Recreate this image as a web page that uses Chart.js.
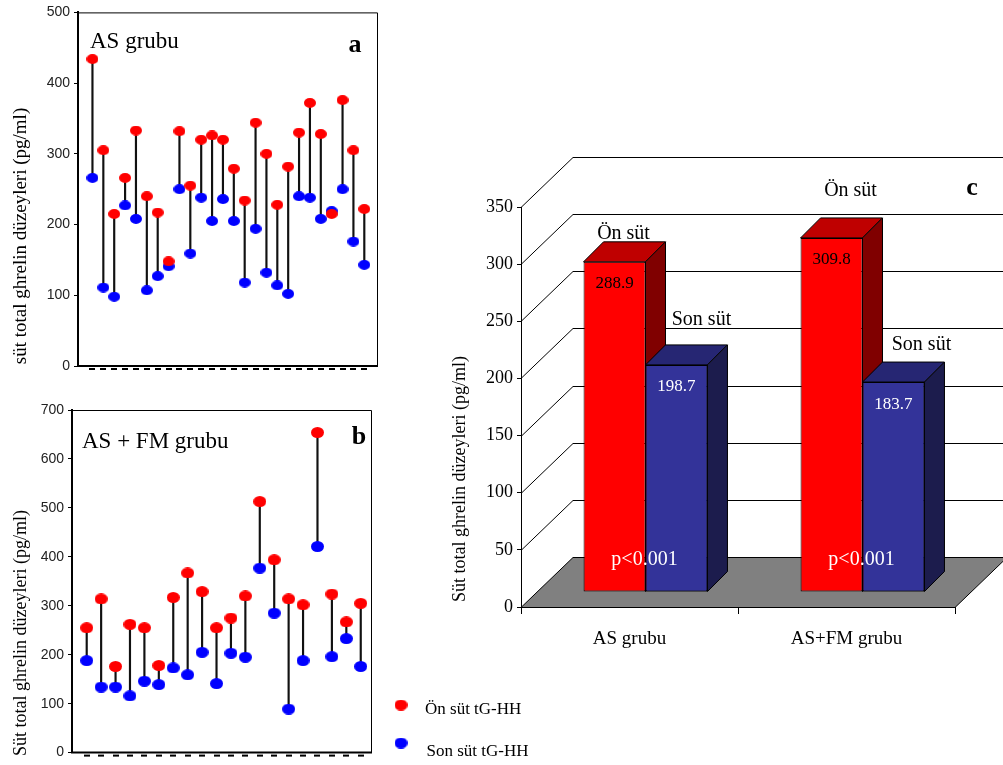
<!DOCTYPE html>
<html>
<head>
<meta charset="utf-8">
<script src="https://cdn.jsdelivr.net/npm/chart.js@4.4.1/dist/chart.umd.min.js"></script>
<style>
  body { margin: 0; background: #fff; width: 1003px; height: 765px; position: relative; overflow: hidden; }
  canvas { position: absolute; }
</style>
</head>
<body>
<canvas id="grafikA" width="390" height="380" style="left:0;top:0"></canvas>
<canvas id="grafikB" width="560" height="370" style="left:0;top:395px"></canvas>
<canvas id="grafikC" width="563" height="525" style="left:440px;top:140px"></canvas>
<script>
// a - AS grubu, her anne icin on sut / son sut (pg/ml)
const asOnSut  = [434, 305, 215, 266, 333, 240, 217, 148, 332, 255, 320, 326, 320, 279, 234, 344, 300, 228, 282, 330, 372, 328, 215, 376, 305, 222];
const asSonSut = [266, 111,  98, 227, 208, 107, 127, 141, 250, 159, 238, 205, 236, 205, 118, 194, 132, 114, 102, 240, 238, 208, 219, 250, 176, 143];

// b - AS + FM grubu
const fmOnSut  = [255, 314, 176, 262, 255, 178, 317, 367, 329, 255, 275, 320, 513, 394, 314, 302, 654, 324, 267, 305];
const fmSonSut = [188, 134, 134, 116, 146, 139, 173, 159, 205, 141, 203, 195, 377, 285,  89, 188, 421, 196, 233, 176];

// c - ortalamalar
const gruplar = ['AS grubu', 'AS+FM grubu'];
const ortOnSut = [288.9, 309.8];
const ortSonSut = [198.7, 183.7];
const pDegeri = ['p<0.001', 'p<0.001'];

const serif = 'Liberation Serif';

function elips(renk, w, h) {
  const c = document.createElement('canvas');
  c.width = w; c.height = h;
  const g = c.getContext('2d');
  g.fillStyle = renk;
  g.beginPath();
  g.ellipse(w / 2, h / 2, w / 2, h / 2, 0, 0, Math.PI * 2);
  g.fill();
  return c;
}

// serbest yazilar (baslik, eksen adi, panel harfi)
function yazilar(items) {
  return {
    id: 'yazilar',
    afterDraw(chart) {
      const ctx = chart.ctx;
      items.forEach(t => {
        ctx.save();
        ctx.translate(t.x, t.y);
        if (t.rot) ctx.rotate(t.rot);
        ctx.font = t.font;
        ctx.fillStyle = t.color || '#000';
        ctx.textAlign = t.align || 'left';
        ctx.textBaseline = t.base || 'alphabetic';
        ctx.fillText(t.text, 0, 0);
        ctx.restore();
      });
    }
  };
}

// cerceve + alt eksen cizgileri
const cerceve = {
  id: 'cerceve',
  afterDraw(chart) {
    const { ctx, chartArea: a, scales: { x } } = chart;
    ctx.save();
    ctx.strokeStyle = '#000';
    ctx.lineWidth = 1;
    ctx.beginPath();
    ctx.moveTo(a.left, a.top + 0.5);
    ctx.lineTo(a.right - 0.5, a.top + 0.5);
    ctx.lineTo(a.right - 0.5, a.bottom);
    ctx.stroke();
    ctx.lineWidth = 2;
    ctx.beginPath();
    ctx.moveTo(a.left - 1, a.bottom);
    ctx.lineTo(a.right, a.bottom);
    ctx.stroke();
    ctx.fillStyle = '#000';
    chart.data.datasets[0].data.forEach(p => {
      const px = x.getPixelForValue(p.x);
      ctx.fillRect(Math.round(px) - 3, a.bottom + 2, 6, 2);
    });
    ctx.restore();
  }
};

function dumbbell(id, onSut, sonSut, o) {
  const kirmizi = elips('#ff0000', o.dotW, o.dotH);
  const mavi = elips('#0000ff', o.dotW, o.dotH);
  const no = onSut.map((v, i) => i + 1);
  return new Chart(document.getElementById(id), {
    type: 'bar',
    data: {
      datasets: [
        {
          type: 'scatter',
          label: 'Ön süt tG-HH',
          data: no.map((x, i) => ({ x: x, y: onSut[i] })),
          pointStyle: kirmizi,
          pointRadius: 6,
          clip: false
        },
        {
          type: 'scatter',
          label: 'Son süt tG-HH',
          data: no.map((x, i) => ({ x: x, y: sonSut[i] })),
          pointStyle: mavi,
          pointRadius: 6,
          clip: false
        },
        {
          type: 'bar',
          label: 'fark',
          data: no.map((x, i) => ({ x: x, y: [sonSut[i], onSut[i]] })),
          backgroundColor: '#111',
          barThickness: 1.5
        }
      ]
    },
    options: {
      responsive: false,
      animation: false,
      devicePixelRatio: 1,
      layout: { padding: o.padding },
      plugins: { legend: { display: false }, tooltip: { enabled: false } },
      scales: {
        x: { type: 'linear', offset: false, min: o.xMin, max: o.xMax, display: false },
        y: {
          min: 0,
          max: o.yMax,
          ticks: { stepSize: 100, color: '#222', font: { family: 'Liberation Sans', size: 14 }, padding: 4 },
          grid: { drawOnChartArea: false, tickLength: 4, color: '#000' },
          border: { color: '#000', width: 2 },
          afterFit: s => { s.width = o.axisW; }
        }
      }
    },
    plugins: [cerceve, yazilar(o.notes)].concat(o.extra || [])
  });
}

dumbbell('grafikA', asOnSut, asSonSut, {
  dotW: 12, dotH: 10, xMin: -0.33, xMax: 27.26, yMax: 500, axisW: 78,
  padding: { left: 0, top: 12, right: 12, bottom: 14 },
  notes: [
    { text: 'süt total ghrelin düzeyleri (pg/ml)', x: 21, y: 236, rot: -Math.PI / 2, align: 'center', base: 'middle', font: '19px ' + serif },
    { text: 'AS grubu', x: 90, y: 48, font: '23px ' + serif },
    { text: 'a', x: 355, y: 52, align: 'center', font: 'bold 26px ' + serif }
  ]
});

// alt tarafta kucuk aciklama
const aciklama = {
  id: 'aciklama',
  afterDraw(chart) {
    const ctx = chart.ctx;
    const satirlar = [{ dy: 310, ty: 319 }, { dy: 348, ty: 361 }];
    ctx.save();
    chart.data.datasets.slice(0, 2).forEach((ds, i) => {
      const img = ds.pointStyle;
      ctx.drawImage(img, 401 - img.width / 2, satirlar[i].dy - img.height / 2);
      ctx.font = '17px ' + serif;
      ctx.fillStyle = '#000';
      ctx.textBaseline = 'alphabetic';
      ctx.fillText(ds.label, 425 + i * 1.5, satirlar[i].ty);
    });
    ctx.restore();
  }
};

dumbbell('grafikB', fmOnSut, fmSonSut, {
  dotW: 13, dotH: 11, xMin: -0.02, xMax: 20.78, yMax: 700, axisW: 72,
  padding: { left: 0, top: 15, right: 188, bottom: 8 },
  notes: [
    { text: 'Süt total ghrelin düzeyleri (pg/ml)', x: 21, y: 238, rot: -Math.PI / 2, align: 'center', base: 'middle', font: '18px ' + serif },
    { text: 'AS + FM grubu', x: 82, y: 53, font: '23px ' + serif },
    { text: 'b', x: 359, y: 49, align: 'center', font: 'bold 26px ' + serif }
  ],
  extra: [aciklama]
});

// c - 3 boyutlu sutunlar
const KAY = { x: 16, y: -15 };   // sutunlarin derinlik kaymasi
const DER = 20;                  // sutun derinligi
const DUV = { x: 52, y: -50 };   // arka duvar
const yuzler = [
  { ust: '#bf0000', yan: '#800000', yazi: '#000' },
  { ust: '#262673', yan: '#1c1c4d', yazi: '#fff' }
];
const adKayma = [
  [{ x: 9, y: -8 }, { x: 19, y: -27 }],
  [{ x: 25, y: -25 }, { x: 28, y: -17 }]
];

function cokgen(ctx, pts, renk) {
  ctx.beginPath();
  ctx.moveTo(pts[0][0], pts[0][1]);
  pts.slice(1).forEach(p => ctx.lineTo(p[0], p[1]));
  ctx.closePath();
  ctx.fillStyle = renk;
  ctx.fill();
  ctx.stroke();
}

const kutu3d = {
  id: 'kutu3d',
  beforeDatasetsDraw(chart) {
    const { ctx, chartArea: a, scales: { y } } = chart;
    ctx.save();
    ctx.strokeStyle = '#000';
    ctx.lineWidth = 1;
    y.ticks.forEach(t => {
      if (t.value === 0) return;
      const py = Math.round(y.getPixelForValue(t.value)) + 0.5;
      ctx.beginPath();
      ctx.moveTo(a.left, py);
      ctx.lineTo(a.left + DUV.x, py + DUV.y);
      ctx.lineTo(chart.width, py + DUV.y);
      ctx.stroke();
    });
    const b = a.bottom + 0.5;
    cokgen(ctx, [[a.left, b], [a.left + DUV.x, b + DUV.y], [a.right + DUV.x, b + DUV.y], [a.right, b]], '#808080');
    ctx.restore();
    ctx.save();
    ctx.translate(KAY.x, KAY.y);
  },
  afterDatasetsDraw(chart) {
    const ctx = chart.ctx;
    ctx.strokeStyle = '#000';
    ctx.lineWidth = 1;
    [0, 1].forEach(di => {
      const meta = chart.getDatasetMeta(di);
      meta.data.forEach(bar => {
        if (di === 1) bar.draw(ctx);
        const p = bar.getProps(['x', 'y', 'base', 'width'], true);
        const l = p.x - p.width / 2, r = p.x + p.width / 2;
        cokgen(ctx, [[l, p.y], [l + DER, p.y - DER], [r + DER, p.y - DER], [r, p.y]], yuzler[di].ust);
        cokgen(ctx, [[r, p.y], [r + DER, p.y - DER], [r + DER, p.base - DER], [r, p.base]], yuzler[di].yan);
      });
    });
    ctx.restore();

    // yazilar
    ctx.save();
    ctx.textAlign = 'center';
    ctx.textBaseline = 'middle';
    [0, 1].forEach(di => {
      const ds = chart.data.datasets[di];
      chart.getDatasetMeta(di).data.forEach((bar, i) => {
        const p = bar.getProps(['x', 'y', 'base', 'width'], true);
        const cx = p.x + KAY.x, top = p.y + KAY.y;
        ctx.fillStyle = yuzler[di].yazi;
        ctx.font = '17px ' + serif;
        ctx.fillText(ds.data[i].toFixed(1), cx, top + 22);
        ctx.fillStyle = '#000';
        ctx.font = '20px ' + serif;
        ctx.fillText(ds.label, cx + adKayma[di][i].x, top - DER + adKayma[di][i].y);
        if (di === 0) {
          ctx.fillStyle = '#fff';
          ctx.fillText(pDegeri[i], p.x + p.width / 2 + KAY.x - 1, p.base + KAY.y - 32);
        }
      });
    });
    ctx.restore();
  }
};

new Chart(document.getElementById('grafikC'), {
  type: 'bar',
  data: {
    labels: gruplar,
    datasets: [
      { label: 'Ön süt', data: ortOnSut, backgroundColor: '#ff0000', borderColor: '#000', borderWidth: 1, borderSkipped: false, clip: false },
      { label: 'Son süt', data: ortSonSut, backgroundColor: '#333399', borderColor: '#000', borderWidth: 1, borderSkipped: false, clip: false }
    ]
  },
  options: {
    responsive: false,
    animation: false,
    devicePixelRatio: 1,
    categoryPercentage: 0.571,
    barPercentage: 1,
    layout: { padding: { left: 0, top: 67, right: 48, bottom: 8 } },
    plugins: { legend: { display: false }, tooltip: { enabled: false } },
    scales: {
      x: {
        grid: { offset: true, drawOnChartArea: false, tickLength: 7, color: '#000' },
        border: { color: '#000' },
        ticks: { color: '#000', font: { family: serif, size: 19 }, padding: 14 },
        afterFit: s => { s.height = 50; }
      },
      y: {
        min: 0,
        max: 350,
        ticks: { stepSize: 50, color: '#000', font: { family: serif, size: 18 }, padding: 4 },
        grid: { drawOnChartArea: false, tickLength: 4, color: '#000' },
        border: { color: '#000' },
        afterFit: s => { s.width = 81; }
      }
    }
  },
  plugins: [kutu3d, yazilar([
    { text: 'Süt total ghrelin düzeyleri (pg/ml)', x: 20, y: 339, rot: -Math.PI / 2, align: 'center', base: 'middle', font: '18px ' + serif },
    { text: 'c', x: 532, y: 48, align: 'center', base: 'middle', font: 'bold 26px ' + serif }
  ])]
});
</script>
</body>
</html>
